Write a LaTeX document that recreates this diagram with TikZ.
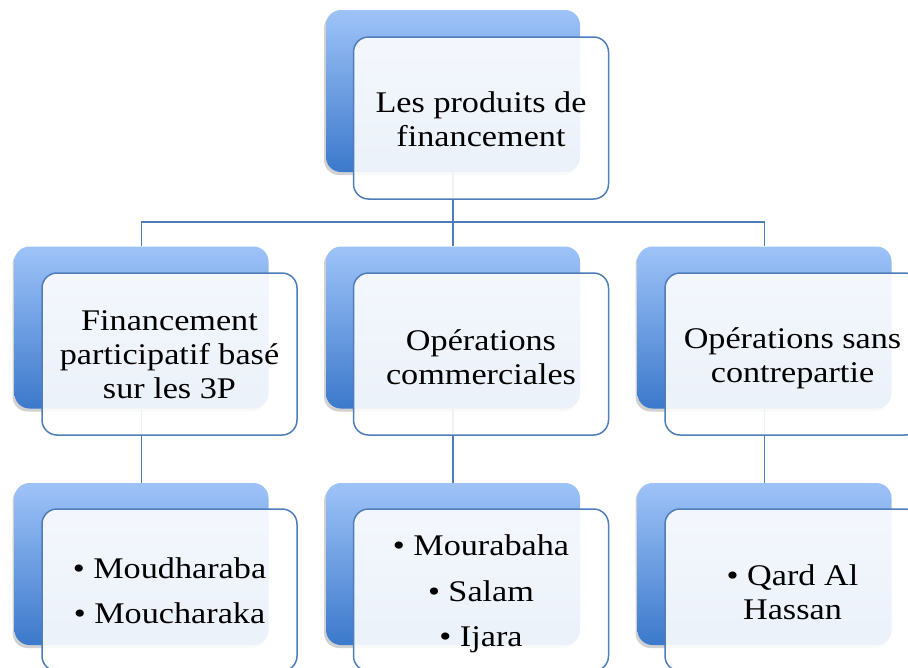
\documentclass[tikz,border=0pt]{standalone}
\usepackage{fontspec}
\setmainfont{Liberation Serif}[FakeStretch=1.14]
\usetikzlibrary{shadows}
\definecolor{bluetop}{RGB}{158,195,248}
\definecolor{bluebot}{RGB}{60,121,203}
\definecolor{edgeblue}{RGB}{79,125,185}
\tikzset{
  backbox/.style={rectangle, rounded corners=15pt, minimum width=254pt, minimum height=162pt,
    top color=bluetop, bottom color=bluebot, draw=none,
    drop shadow={shadow xshift=-2pt, shadow yshift=-3pt, opacity=0.18, fill=black}},
  frontbox/.style={rectangle, rounded corners=15pt, minimum width=255pt, minimum height=162pt,
    fill=white, fill opacity=0.9, draw=edgeblue, line width=1.5pt},
  boxtext/.style={align=center, font=\fontsize{30}{34}\selectfont, inner sep=0pt},
  conn/.style={draw=edgeblue, line width=1.5pt}
}
\begin{document}
\begin{tikzpicture}[x=1pt,y=-1pt]
\useasboundingbox (0,0) rectangle (908,667);
\clip (0,0) rectangle (908,667);
% back boxes
\node[backbox] (tb) at (453,91) {};
\node[backbox] (lb) at (141.5,327.5) {};
\node[backbox] (mb) at (453,327.5) {};
\node[backbox] (rb) at (764.5,327.5) {};
\node[backbox] (lbb) at (141.5,564) {};
\node[backbox] (mbb) at (453,564) {};
\node[backbox] (rbb) at (764.5,564) {};
% connectors (behind front boxes)
\coordinate (bus) at (453,222);
\draw[conn] (tb.south) -- (bus);
\draw[conn] (bus) -| (lb.north);
\draw[conn] (bus) -- (mb.north);
\draw[conn] (bus) -| (rb.north);
\draw[conn] (lb.south) -- (lbb.north);
\draw[conn] (mb.south) -- (mbb.north);
\draw[conn] (rb.south) -- (rbb.north);
% front boxes
\node[frontbox] (tf) at (481,118) {};
\node[frontbox] (lf) at (169.5,354) {};
\node[frontbox] (mf) at (481,354) {};
\node[frontbox] (rf) at (792.5,354) {};
\node[frontbox] (lff) at (169.5,590) {};
\node[frontbox] (mff) at (481,590) {};
\node[frontbox] (rff) at (792.5,590) {};
% texts
\node[boxtext] (tft) at ([yshift=-1pt]tf.center) {Les produits de\\financement};
\node[boxtext] (lft) at ([yshift=-1pt]lf.center) {Financement\\participatif basé\\sur les 3P};
\node[boxtext] (mft) at ([yshift=-3pt]mf.center) {Opérations\\commerciales};
\node[boxtext] (rft) at ([yshift=-4pt]rf.center) {Opérations sans\\contrepartie};
\node[boxtext] (lfft) at ([yshift=-1pt]lff.center) {• Moudharaba\\[11pt]• Moucharaka};
\node[boxtext] (mfft) at ([yshift=-4pt]mff.center) {• Mourabaha\\[11.5pt]• Salam\\[11.5pt]• Ijara};
\node[boxtext] (rfft) at ([yshift=-2pt]rff.center) {• Qard Al\\Hassan};
\end{tikzpicture}
\end{document}
